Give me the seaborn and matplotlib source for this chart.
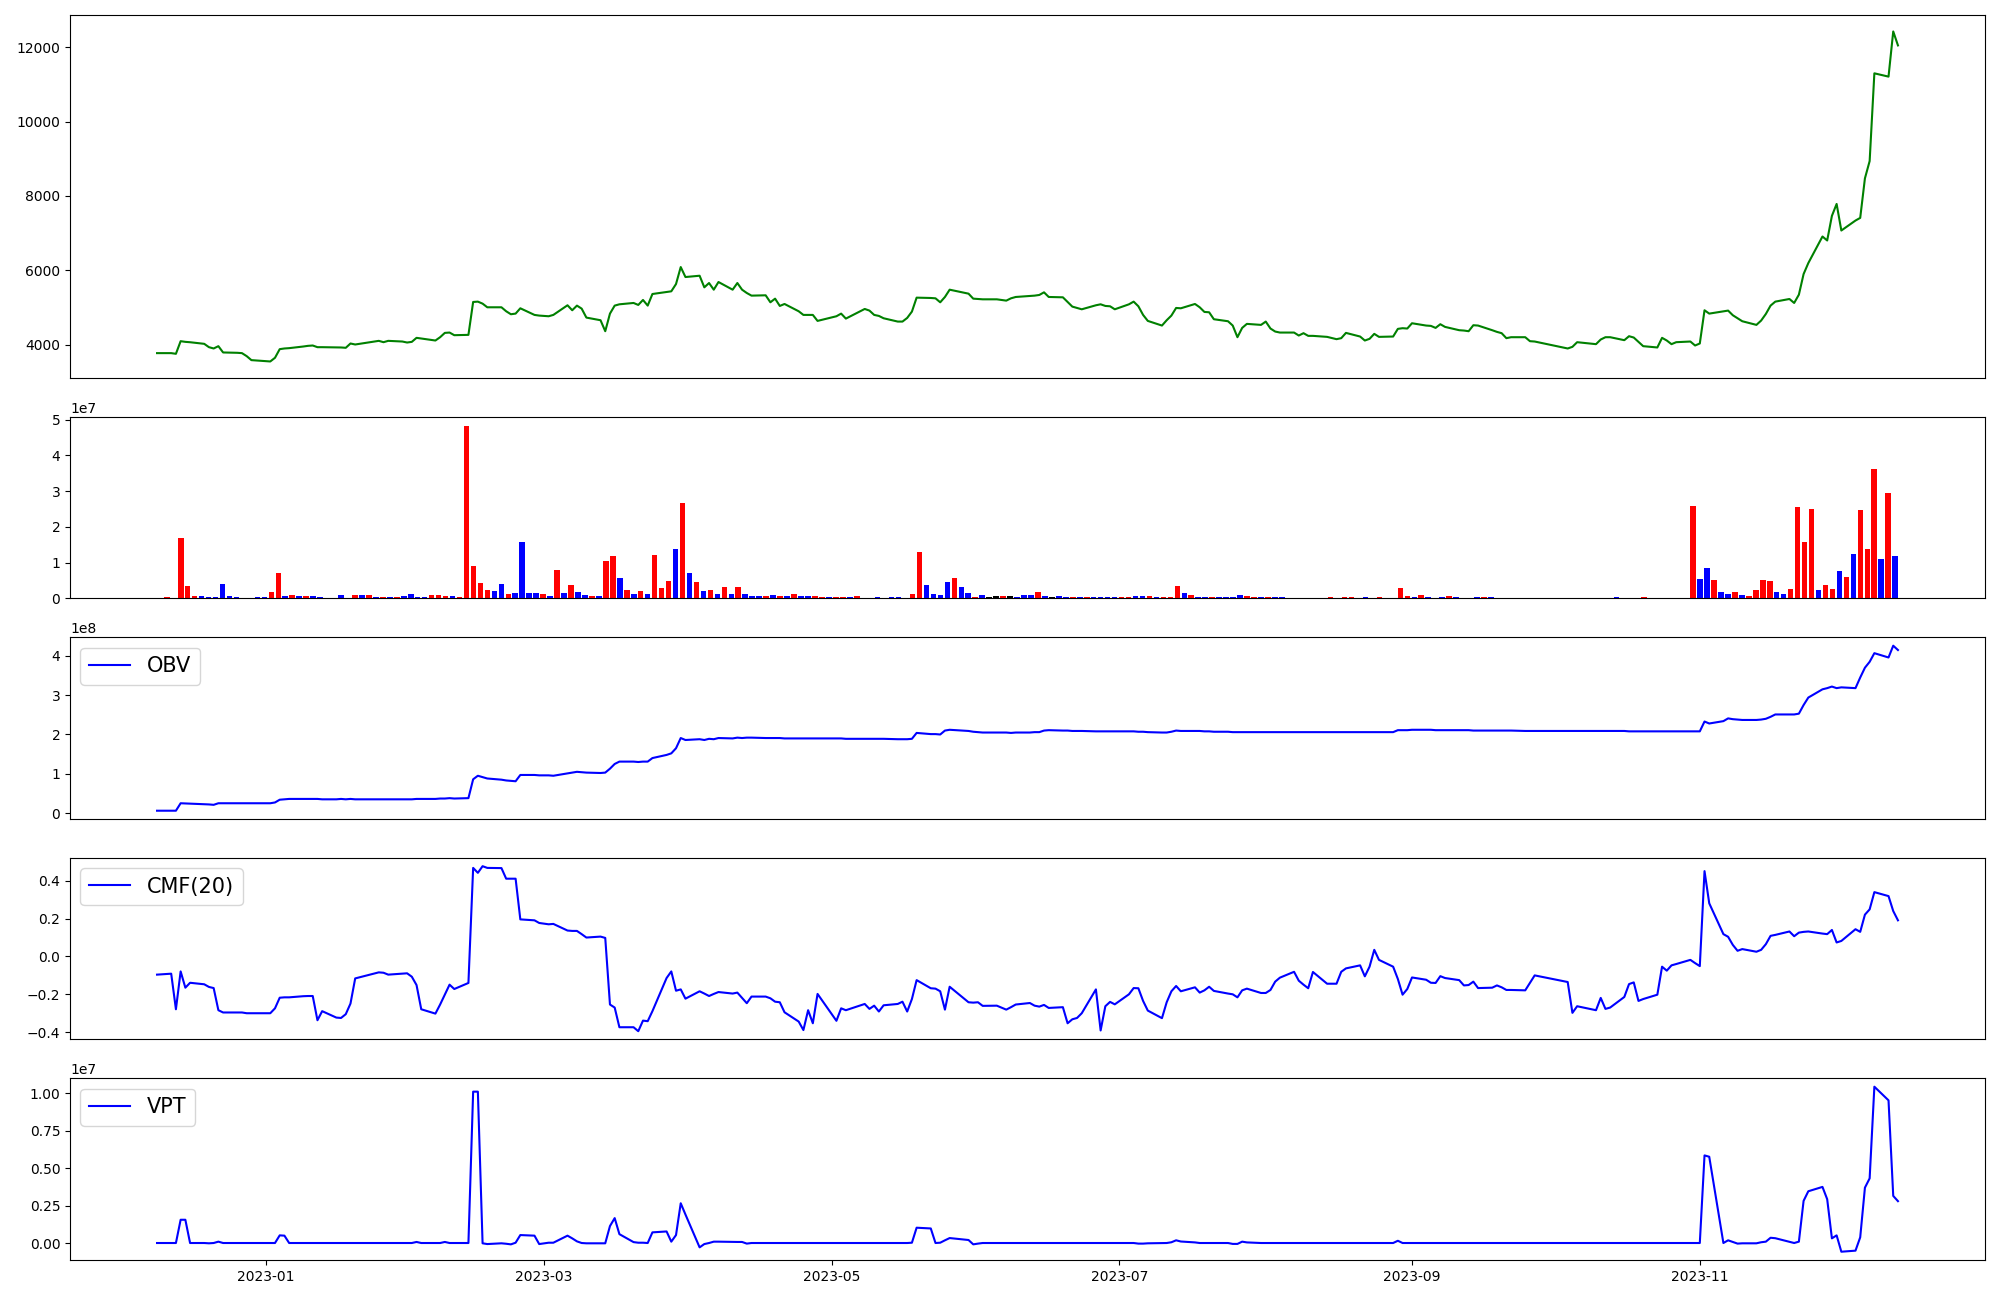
import numpy as np
import pandas as pd
import matplotlib
matplotlib.use("Agg")
import matplotlib.pyplot as plt
import seaborn as sns

# ---------------- data ----------------
start_date = "2022-12-09"
end_date = "2023-12-13"
market_holidays = ["2022-12-30", "2023-01-23", "2023-01-24", "2023-03-01",
                   "2023-05-01", "2023-05-05", "2023-05-29", "2023-06-06",
                   "2023-08-15", "2023-09-28", "2023-09-29", "2023-10-02",
                   "2023-10-03", "2023-10-09"]

close = [
    3777, 3777, 3759, 4098, 4080, 4070, 4027, 3937, 3902, 3964,
    3795, 3786, 3777, 3696, 3589, 3553, 3652, 3884, 3902, 3911,
    3955, 3973, 3982, 3937, 3937, 3929, 3929, 3920, 4036, 4009,
    4107, 4071, 4107, 4089, 4062, 4080, 4188, 4170, 4116, 4205,
    4321, 4330, 4259, 4268, 5152, 5161, 5107, 5009, 5009, 4902,
    4822, 4839, 4982, 4804, 4786, 4768, 4804, 5063, 4929, 5054,
    4973, 4732, 4661, 4366, 4839, 5054, 5089, 5125, 5072, 5206,
    5054, 5366, 5420, 5438, 5634, 6090, 5822, 5857, 5545, 5661,
    5482, 5688, 5482, 5661, 5482, 5393, 5322, 5331, 5143, 5241,
    5045, 5098, 4902, 4804, 4804, 4804, 4643, 4768, 4839, 4705,
    4964, 4920, 4804, 4777, 4714, 4625, 4625, 4723, 4893, 5268,
    5259, 5250, 5143, 5286, 5482, 5375, 5241, 5232, 5223, 5223,
    5188, 5250, 5286, 5313, 5322, 5340, 5411, 5286, 5277, 5152,
    5027, 4991, 4955, 5063, 5089, 5045, 5036, 4955, 5089, 5161,
    5036, 4804, 4643, 4518, 4661, 4786, 4991, 4982, 5098, 5009,
    4884, 4875, 4688, 4634, 4518, 4205, 4455, 4563, 4536, 4625,
    4438, 4357, 4330, 4330, 4250, 4313, 4241, 4241, 4214, 4152,
    4179, 4321, 4223, 4116, 4161, 4295, 4214, 4223, 4429, 4447,
    4438, 4580, 4518, 4509, 4455, 4554, 4482, 4393, 4384, 4366,
    4527, 4518, 4393, 4348, 4313, 4179, 4205, 4205, 4098, 4089,
    3902, 3946, 4071, 4018, 4143, 4205, 4205, 4125, 4232, 4196,
    4080, 3964, 3929, 4188, 4116, 4018, 4071, 4089, 3982, 4036,
    4929, 4839, 4902, 4920, 4795, 4714, 4634, 4536, 4652, 4830,
    5054, 5161, 5232, 5125, 5348, 5902, 6197, 6911, 6804, 7465,
    7786, 7072, 7340, 7411, 8474, 8938, 11296, 11207, 12421, 12046,
]

# volume in units of 1e7
volume_1e7 = [
    0.01, 0.04, 0.01, 1.68, 0.36, 0.065, 0.056, 0.04, 0.04, 0.40,
    0.065, 0.05, 0.01, 0.01, 0.04, 0.04, 0.18, 0.71, 0.06, 0.09,
    0.06, 0.06, 0.06, 0.04, 0.01, 0.01, 0.09, 0.01, 0.09, 0.09,
    0.09, 0.04, 0.04, 0.04, 0.04, 0.065, 0.12, 0.04, 0.04, 0.09,
    0.09, 0.065, 0.065, 0.04, 4.83, 0.90, 0.43, 0.23, 0.20, 0.40,
    0.12, 0.15, 1.57, 0.15, 0.15, 0.12, 0.065, 0.79, 0.15, 0.37,
    0.18, 0.09, 0.065, 0.065, 1.04, 1.18, 0.57, 0.23, 0.12, 0.20,
    0.12, 1.21, 0.29, 0.48, 1.38, 2.66, 0.71, 0.46, 0.20, 0.23,
    0.12, 0.32, 0.12, 0.32, 0.12, 0.065, 0.065, 0.065, 0.09, 0.065,
    0.065, 0.12, 0.065, 0.065, 0.065, 0.04, 0.04, 0.04, 0.04, 0.04,
    0.065, 0.01, 0.01, 0.04, 0.01, 0.04, 0.04, 0.01, 0.12, 1.29,
    0.37, 0.12, 0.09, 0.46, 0.57, 0.32, 0.15, 0.04, 0.09, 0.04,
    0.065, 0.065, 0.065, 0.04, 0.09, 0.09, 0.18, 0.065, 0.04, 0.065,
    0.04, 0.04, 0.04, 0.04, 0.04, 0.04, 0.04, 0.04, 0.04, 0.04,
    0.065, 0.065, 0.065, 0.04, 0.04, 0.04, 0.34, 0.15, 0.09, 0.04,
    0.04, 0.04, 0.04, 0.04, 0.04, 0.09, 0.065, 0.04, 0.04, 0.04,
    0.04, 0.04, 0.01, 0.01, 0.01, 0.01, 0.01, 0.01, 0.04, 0.01,
    0.04, 0.04, 0.01, 0.04, 0.01, 0.04, 0.01, 0.01, 0.29, 0.065,
    0.04, 0.09, 0.04, 0.01, 0.04, 0.065, 0.04, 0.01, 0.01, 0.04,
    0.04, 0.04, 0.01, 0.01, 0.01, 0.01, 0.01, 0.01, 0.01, 0.01,
    0.01, 0.01, 0.01, 0.01, 0.01, 0.01, 0.01, 0.01, 0.01, 0.04,
    0.01, 0.01, 0.01, 0.04, 0.01, 0.01, 0.01, 0.01, 0.01, 0.01,
    2.57, 0.54, 0.85, 0.51, 0.18, 0.12, 0.18, 0.09, 0.065, 0.23,
    0.51, 0.48, 0.18, 0.12, 0.26, 2.55, 1.57, 2.49, 0.23, 0.37,
    0.26, 0.76, 0.59, 1.24, 2.46, 1.38, 3.63, 1.10, 2.94, 1.18,
]

# bar colour codes: r = up, b = down, k = unchanged
bar_codes = ("brbrrrbbbb" "bbrbbbrrbr" "brbbrbbrrb" "rbrbrbbbbr" "rrbrrrrrbb"
             "rbbbbrbrbr" "bbrbrrbrbr" "brrrbrbrbr" "brbrbbbrbr" "brbbrrbrrb"
             "rrbbrbbrrr" "bbbbrbbrbk" "krkbbbrbkb" "brbrbbbbrr" "bbrbrrrbrb"
             "brbbbbrrbr" "bbrbrbrbrb" "rrbbrrbrrr" "brbrbrbrbb" "rbrbrbrbrb"
             "rbrbrbrbrb" "rbrrbrbrbr" "rbbrbbrbrr" "rrbbrrrrbr" "rbrbrrrbrb")

# OBV in units of 1e8
obv_1e8 = [
    0.06, 0.06, 0.06, 0.25, 0.245, 0.24, 0.225, 0.22, 0.21, 0.25,
    0.25, 0.25, 0.25, 0.25, 0.25, 0.25, 0.27, 0.34, 0.35, 0.36,
    0.36, 0.36, 0.36, 0.36, 0.35, 0.35, 0.36, 0.35, 0.36, 0.35,
    0.35, 0.35, 0.35, 0.35, 0.35, 0.35, 0.36, 0.36, 0.36, 0.37,
    0.37, 0.38, 0.37, 0.38, 0.86, 0.95, 0.915, 0.88, 0.85, 0.83,
    0.82, 0.81, 0.97, 0.97, 0.96, 0.96, 0.95, 1.01, 1.03, 1.05,
    1.04, 1.03, 1.02, 1.03, 1.13, 1.25, 1.31, 1.31, 1.30, 1.31,
    1.31, 1.40, 1.48, 1.52, 1.65, 1.91, 1.86, 1.88, 1.86, 1.89,
    1.88, 1.91, 1.90, 1.92, 1.91, 1.92, 1.92, 1.91, 1.91, 1.91,
    1.91, 1.90, 1.90, 1.90, 1.90, 1.90, 1.90, 1.90, 1.90, 1.89,
    1.89, 1.89, 1.89, 1.89, 1.89, 1.88, 1.88, 1.88, 1.89, 2.04,
    2.01, 2.01, 2.00, 2.10, 2.12, 2.09, 2.07, 2.06, 2.05, 2.05,
    2.05, 2.04, 2.05, 2.05, 2.06, 2.06, 2.10, 2.11, 2.10, 2.10,
    2.09, 2.09, 2.09, 2.08, 2.08, 2.08, 2.08, 2.08, 2.08, 2.08,
    2.07, 2.07, 2.06, 2.05, 2.05, 2.07, 2.10, 2.09, 2.09, 2.09,
    2.08, 2.08, 2.07, 2.07, 2.06, 2.06, 2.06, 2.06, 2.06, 2.06,
    2.06, 2.06, 2.06, 2.06, 2.06, 2.06, 2.06, 2.06, 2.06, 2.06,
    2.06, 2.06, 2.06, 2.06, 2.06, 2.06, 2.06, 2.06, 2.11, 2.11,
    2.11, 2.12, 2.12, 2.12, 2.11, 2.11, 2.11, 2.11, 2.11, 2.11,
    2.10, 2.10, 2.10, 2.10, 2.10, 2.10, 2.10, 2.09, 2.09, 2.09,
    2.09, 2.09, 2.09, 2.09, 2.09, 2.09, 2.09, 2.09, 2.08, 2.08,
    2.08, 2.08, 2.08, 2.08, 2.08, 2.08, 2.08, 2.08, 2.08, 2.08,
    2.33, 2.28, 2.34, 2.41, 2.39, 2.38, 2.37, 2.37, 2.38, 2.40,
    2.45, 2.51, 2.51, 2.51, 2.53, 2.75, 2.94, 3.15, 3.18, 3.22,
    3.18, 3.20, 3.18, 3.45, 3.70, 3.85, 4.07, 3.96, 4.26, 4.15,
]

cmf_20 = [
    -0.096, -0.091, -0.279, -0.079, -0.165, -0.139, -0.147, -0.161, -0.167, -0.284,
    -0.296, -0.296, -0.296, -0.300, -0.300, -0.300, -0.274, -0.218, -0.216, -0.216,
    -0.210, -0.209, -0.209, -0.337, -0.289, -0.323, -0.325, -0.305, -0.249, -0.116,
    -0.084, -0.086, -0.096, -0.091, -0.089, -0.107, -0.151, -0.279, -0.302, -0.254,
    -0.202, -0.149, -0.172, -0.140, 0.468, 0.442, 0.477, 0.468, 0.467, 0.411,
    0.411, 0.411, 0.196, 0.191, 0.177, 0.170, 0.172, 0.137, 0.135, 0.135,
    0.118, 0.100, 0.105, 0.098, -0.254, -0.270, -0.374, -0.374, -0.395, -0.339,
    -0.342, -0.289, -0.114, -0.079, -0.181, -0.174, -0.223, -0.184, -0.196, -0.209,
    -0.198, -0.188, -0.196, -0.191, -0.219, -0.247, -0.212, -0.212, -0.221, -0.239,
    -0.242, -0.295, -0.344, -0.389, -0.284, -0.353, -0.198, -0.340, -0.274, -0.284,
    -0.251, -0.277, -0.260, -0.291, -0.258, -0.251, -0.239, -0.291, -0.225, -0.125,
    -0.168, -0.170, -0.184, -0.281, -0.160, -0.242, -0.244, -0.242, -0.261, -0.260,
    -0.281, -0.268, -0.254, -0.246, -0.260, -0.265, -0.256, -0.272, -0.268, -0.353,
    -0.332, -0.325, -0.300, -0.174, -0.391, -0.263, -0.240, -0.253, -0.200, -0.167,
    -0.168, -0.235, -0.286, -0.326, -0.242, -0.184, -0.156, -0.184, -0.163, -0.191,
    -0.179, -0.160, -0.182, -0.196, -0.200, -0.216, -0.179, -0.170, -0.193, -0.193,
    -0.177, -0.133, -0.112, -0.081, -0.128, -0.149, -0.168, -0.082, -0.144, -0.144,
    -0.081, -0.063, -0.047, -0.105, -0.054, 0.035, -0.018, -0.054, -0.119, -0.202,
    -0.172, -0.111, -0.123, -0.139, -0.140, -0.104, -0.114, -0.125, -0.153, -0.151,
    -0.133, -0.167, -0.165, -0.153, -0.163, -0.177, -0.177, -0.179, -0.140, -0.100,
    -0.135, -0.298, -0.263, -0.284, -0.219, -0.277, -0.270, -0.214, -0.146, -0.137,
    -0.235, -0.225, -0.202, -0.054, -0.075, -0.047, -0.040, -0.018, -0.035, -0.051,
    0.451, 0.281, 0.118, 0.104, 0.061, 0.030, 0.039, 0.025, 0.035, 0.065,
    0.109, 0.114, 0.132, 0.107, 0.126, 0.130, 0.132, 0.121, 0.118, 0.140,
    0.074, 0.082, 0.144, 0.130, 0.221, 0.249, 0.340, 0.319, 0.240, 0.191,
]

# VPT in units of 1e7
vpt_1e7 = [
    0, 0, 0, 0.155, 0.155, 0, 0, -0.002, 0, 0.009,
    0, 0, 0, 0, 0, 0, 0, 0.051, 0.049, 0,
    0, 0, 0, 0, 0, 0, 0, 0, 0, 0,
    0, 0, 0, 0, 0, 0, 0.007, 0, 0, 0,
    0.007, 0, 0, 0, 1.009, 1.009, -0.002, -0.007, -0.002, -0.005,
    -0.009, 0.002, 0.053, 0.049, -0.007, 0.002, 0.002, 0.049, 0.031, 0.011,
    0, -0.002, -0.002, -0.002, 0.113, 0.166, 0.059, 0.006, 0.002, 0.002,
    0, 0.071, 0.077, 0.009, 0.053, 0.265, 0.19, -0.029, -0.007, 0,
    0.009, 0.009, 0.007, 0.007, 0.007, -0.004, 0, 0, 0, 0,
    0, 0, 0, 0, 0, 0, 0, 0, 0, 0,
    0, 0, 0, 0, 0, 0, 0, 0, 0.002, 0.102,
    0.097, 0, 0.002, 0.018, 0.033, 0.02, -0.009, -0.004, 0, 0,
    0, 0, 0, 0, 0, 0, 0, 0, 0, 0,
    0, 0, 0, 0, 0, 0, 0, 0, 0, 0,
    -0.004, -0.004, -0.002, 0, 0, 0.005, 0.018, 0.01, 0.004, 0,
    0, 0, 0, 0, -0.006, -0.006, 0.009, 0.004, 0, 0,
    0, 0, 0, 0, 0, 0, 0, 0, 0, 0,
    0, 0, 0, 0, 0, 0, 0, 0, 0.015, 0,
    0, 0, 0, 0, 0, 0, 0, 0, 0, 0,
    0, 0, 0, 0, 0, 0, 0, 0, 0, 0,
    0, 0, 0, 0, 0, 0, 0, 0, 0, 0,
    0, 0, 0, 0, 0, 0, 0, 0, 0, 0,
    0.584, 0.575, 0, 0.018, 0.007, -0.004, -0.002, -0.002, 0.005, 0.009,
    0.035, 0.032, 0.008, 0, 0.009, 0.281, 0.345, 0.374, 0.292, 0.031,
    0.051, -0.058, -0.051, 0.038, 0.369, 0.431, 1.042, 0.951, 0.314, 0.279,
]

# ---------------- calendar ----------------
dates = pd.bdate_range(start_date, end_date)
dates = dates[~dates.isin(pd.to_datetime(market_holidays))]
n = len(dates)
for name, arr in [("close", close), ("volume", volume_1e7), ("codes", bar_codes),
                  ("obv", obv_1e8), ("cmf", cmf_20), ("vpt", vpt_1e7)]:
    if len(arr) != n:
        raise ValueError(f"{name} has {len(arr)} values, expected {n}")

close_s = np.array(close, dtype=float)
volume = np.array(volume_1e7) * 1e7
obv = np.array(obv_1e8) * 1e8
vpt = np.array(vpt_1e7) * 1e7
code_names = {"r": "up", "b": "down", "k": "flat"}
hue = [code_names[c] for c in bar_codes]
palette = {"up": "red", "down": "blue", "flat": "black"}

# ---------------- figure ----------------
fig = plt.figure(figsize=(20, 13), dpi=100)
gs = fig.add_gridspec(5, 1, height_ratios=[2, 1, 1, 1, 1],
                      left=0.035, right=0.9925, top=0.9885, bottom=0.0308,
                      hspace=0.179)
ax_p = fig.add_subplot(gs[0])
ax_v = fig.add_subplot(gs[1])
ax_o = fig.add_subplot(gs[2])
ax_c = fig.add_subplot(gs[3])
ax_t = fig.add_subplot(gs[4])

sns.lineplot(x=dates, y=close_s, ax=ax_p, color="green", linewidth=1.5)

sns.barplot(x=np.arange(n), y=volume, hue=hue, palette=palette, dodge=False,
            saturation=1, legend=False, errorbar=None, width=0.8,
            linewidth=0, ax=ax_v)
span = (n - 1) + 0.8
ax_v.set_xlim(-0.4 - 0.05 * span, n - 1 + 0.4 + 0.05 * span)
ax_v.set_xticks([])

sns.lineplot(x=dates, y=obv, ax=ax_o, color="blue", linewidth=1.5, label="OBV")
sns.lineplot(x=dates, y=np.array(cmf_20), ax=ax_c, color="blue", linewidth=1.5,
             label="CMF(20)")
sns.lineplot(x=dates, y=vpt, ax=ax_t, color="blue", linewidth=1.5, label="VPT")

for ax in (ax_o, ax_c, ax_t):
    ax.legend(loc="upper left", fontsize=15)

for ax in (ax_p, ax_o, ax_c):
    ax.tick_params(axis="x", which="both", bottom=False, labelbottom=False)

for ax in (ax_p, ax_v, ax_o, ax_c, ax_t):
    ax.set_xlabel("")
    ax.set_ylabel("")

fig.savefig("out.png", dpi=100)
